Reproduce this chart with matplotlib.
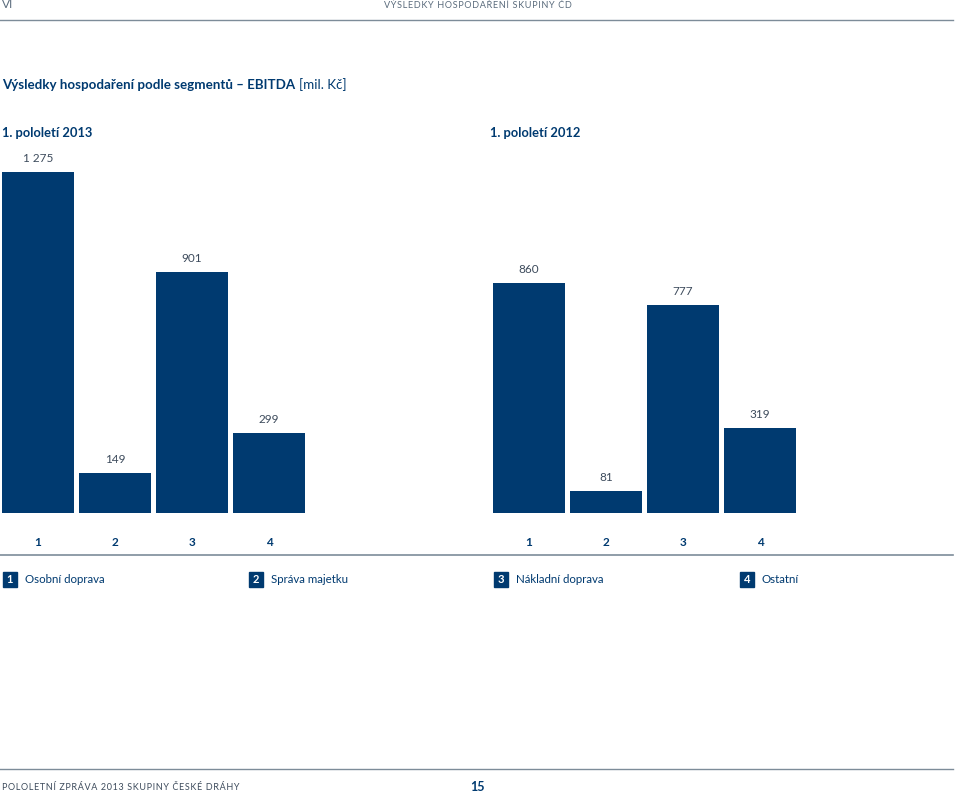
import matplotlib.pyplot as plt
from matplotlib.patches import Rectangle

# data
segments = ["1", "2", "3", "4"]
segment_names = ["Osobní doprava", "Správa majetku", "Nákladní doprava", "Ostatní"]
ebitda_2013 = [1275, 149, 901, 299]
ebitda_2012 = [860, 81, 777, 319]
panel_titles = ["1. pololetí 2013", "1. pololetí 2012"]
value_labels_2013 = ["1 275", "149", "901", "299"]
value_labels_2012 = ["860", "81", "777", "319"]

BLUE = "#003a70"
TXT = "#3d4b5c"
LINE = "#7d8c99"
plt.rcParams['font.family'] = ['Lato', 'DejaVu Sans']

W, H = 959, 796
fig = plt.figure(figsize=(W / 100, H / 100), dpi=100)

def fx(px):
    return px / W

def fy(py):
    return 1 - py / H

def spaced(s):
    # small letter-spacing like the original print layout
    return "\u200a".join(s)

# header
fig.text(fx(2), fy(5), "VI", fontsize=8.5, color="#5a6b7c", va="center", ha="left")
fig.text(fx(478), fy(5), spaced("VÝSLEDKY HOSPODAŘENÍ SKUPINY ČD"),
         fontsize=6.6, color="#5a6b7c", va="center", ha="center")
fig.add_artist(plt.Line2D([fx(0), fx(953)], [fy(20), fy(20)], color=LINE, lw=1))

# title
t1 = fig.text(fx(2), fy(85), "Výsledky hospodaření podle segmentů – EBITDA",
              fontsize=9.6, fontweight="bold", color=BLUE, va="center", ha="left")
fig.canvas.draw()
bb = t1.get_window_extent()
fig.text(bb.x1 / W + fx(4), fy(85), "[mil. Kč]", fontsize=9.6, color=BLUE,
         va="center", ha="left")

fig.text(fx(2), fy(133), panel_titles[0], fontsize=9.3, fontweight="bold",
         color=BLUE, va="center", ha="left")
fig.text(fx(490), fy(133), panel_titles[1], fontsize=9.3, fontweight="bold",
         color=BLUE, va="center", ha="left")

# bar panels
scale = (513 - 172) / 1275.0  # px per mil. Kč
top_px = 150
ymax = (513 - top_px) / scale

panels = [(-0.5, ebitda_2013, value_labels_2013), (490.5, ebitda_2012, value_labels_2012)]
for left_px, vals, labs in panels:
    ax = fig.add_axes([fx(left_px), fy(513), fx(308), (513 - top_px) / H])
    x = range(len(vals))
    ax.bar(x, vals, width=72 / 77, color=BLUE)
    for i, (v, lab) in enumerate(zip(vals, labs)):
        ax.text(i, v + 13.5 / scale, lab, ha="center", va="center", fontsize=8.5, color=TXT)
    ax.set_xlim(-0.5, 3.5)
    ax.set_ylim(0, ymax)
    ax.axis("off")
    for i, s in enumerate(segments):
        fig.text(fx(left_px + 38.5 + 77 * i), fy(542), s, fontsize=8.5,
                 fontweight="bold", color=BLUE, ha="center", va="center")

# separator
fig.add_artist(plt.Line2D([fx(0), fx(953)], [fy(555), fy(555)], color=LINE, lw=1.2))

# legend
leg_x = [3, 249, 494, 740]
for px, s, name in zip(leg_x, segments, segment_names):
    fig.add_artist(Rectangle((fx(px), fy(587)), fx(14), 15 / H, color=BLUE,
                             transform=fig.transFigure))
    fig.text(fx(px + 7), fy(579.5), s, fontsize=8, fontweight="bold", color="white",
             ha="center", va="center")
    fig.text(fx(px + 22), fy(579.5), name, fontsize=8.3, color=BLUE, ha="left", va="center")

# footer
fig.add_artist(plt.Line2D([fx(0), fx(953)], [fy(769), fy(769)], color=LINE, lw=1))
fig.text(fx(2), fy(787), spaced("POLOLETNÍ ZPRÁVA 2013 SKUPINY ČESKÉ DRÁHY"),
         fontsize=6.5, color=TXT, ha="left", va="center")
fig.text(fx(477), fy(787), "15", fontsize=9, fontweight="bold", color=BLUE,
         ha="center", va="center")

fig.savefig("out.png", dpi=100)
